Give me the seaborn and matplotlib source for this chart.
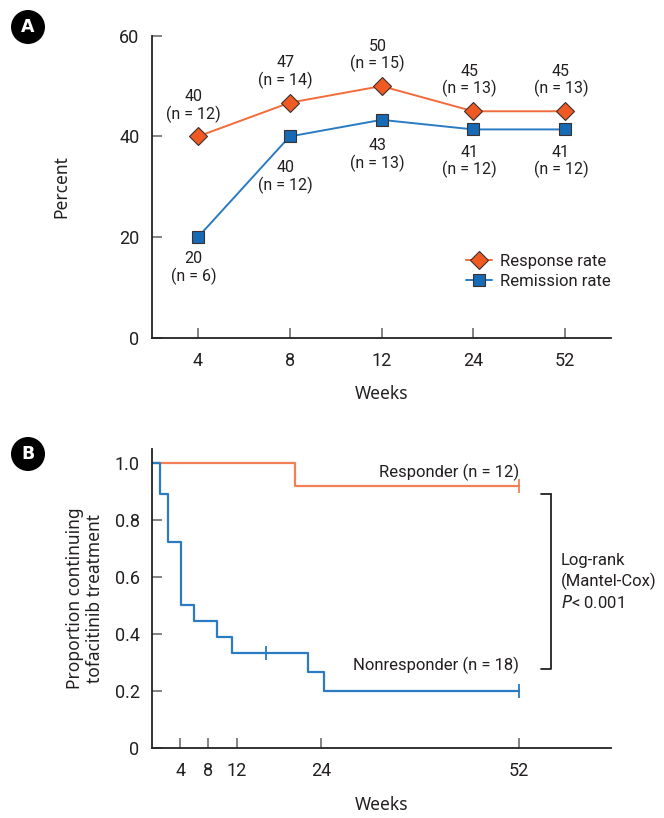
import matplotlib
matplotlib.use("Agg")
import matplotlib.pyplot as plt
import seaborn as sns
import pandas as pd
import numpy as np

# ---------------- data ----------------
weeks_a = ["4", "8", "12", "24", "52"]
response_rate = [40, 46.7, 50, 45, 45]
response_pct_lbl = ["40", "47", "50", "45", "45"]
response_n = [12, 14, 15, 13, 13]
remission_rate = [20, 40, 43.3, 41.4, 41.4]
remission_pct_lbl = ["20", "40", "43", "41", "41"]
remission_n = [6, 12, 13, 12, 12]

resp_km_t = [0, 20.2, 52]
resp_km_s = [1.0, 0.917, 0.917]
resp_cens_t = [52]
resp_cens_s = [0.917]

non_km_t = [0, 1.1, 2.2, 4.1, 5.9, 9.2, 11.3, 22.1, 24.4, 52]
non_km_s = [1.0, 0.889, 0.722, 0.5, 0.444, 0.389, 0.333, 0.267, 0.2, 0.2]
non_cens_t = [16.2, 52]
non_cens_s = [0.333, 0.2]

b_ticks = [4, 8, 12, 24, 52]

# ---------------- style ----------------
sns.set_theme(style="ticks")
NARROW = ["Roboto", "DejaVu Sans"]
REG = ["Noto Sans", "DejaVu Sans"]
plt.rcParams["font.family"] = NARROW

ORANGE_FILL = "#F05A22"
ORANGE_LINE = "#F26B3A"
ORANGE_KM = "#F27F55"
BLUE_FILL = "#176AB4"
BLUE_LINE = "#2A7BC2"
EDGE = "#3A3030"
TXT = "#231F20"
TICKC = "#6E6E6E"

W, H = 664, 818
fig = plt.figure(figsize=(W / 100, H / 100), dpi=100)

def fax(l, t, r, b):
    return fig.add_axes([l / W, 1 - b / H, (r - l) / W, (b - t) / H])

axA = fax(152, 35.7, 611, 338)
axB = fax(152, 449.3, 611, 748)

for ax in (axA, axB):
    sns.despine(ax=ax)
    for s in ("left", "bottom"):
        ax.spines[s].set_color("#222222")
        ax.spines[s].set_linewidth(1.3)
    ax.tick_params(direction="in", length=7, width=1.2, color=TICKC,
                   labelsize=13, labelcolor=TXT)
    ax.tick_params(axis="x", pad=10)
    ax.tick_params(axis="y", pad=9)

# ---------------- panel A ----------------
dfa = pd.DataFrame({"week": weeks_a, "Response rate": response_rate,
                    "Remission rate": remission_rate})
sns.lineplot(data=dfa, x="week", y="Response rate", ax=axA, color=ORANGE_LINE,
             lw=1.4, marker="D", markersize=9, markerfacecolor=ORANGE_FILL,
             markeredgecolor=EDGE, markeredgewidth=0.8, label="Response rate")
sns.lineplot(data=dfa, x="week", y="Remission rate", ax=axA, color=BLUE_LINE,
             lw=1.4, marker="s", markersize=8.5, markerfacecolor=BLUE_FILL,
             markeredgecolor=EDGE, markeredgewidth=0.8, label="Remission rate")
axA.set_xlim(-0.5, 4.5)
axA.set_ylim(0, 60)
axA.set_yticks([0, 20, 40, 60])
axA.set_xlabel("Weeks", fontsize=12.5, color=TXT, family=REG)
axA.set_ylabel("Percent", fontsize=12.5, color=TXT, family=REG)
axA.xaxis.set_label_coords(0.5, -0.155)
axA.yaxis.set_label_coords(-0.178, 0.5)

blue_off = {"4": 10, "8": 17, "12": 13, "24": 11, "52": 11}
for i, w in enumerate(weeks_a):
    axA.annotate(f"{response_pct_lbl[i]}\n(n = {response_n[i]})",
                 (w, response_rate[i]), xytext=(-3, 10), textcoords="offset points",
                 ha="center", va="bottom", fontsize=11.5, color=TXT, linespacing=1.1)
    axA.annotate(f"{remission_pct_lbl[i]}\n(n = {remission_n[i]})",
                 (w, remission_rate[i]), xytext=(-3, -blue_off[w]), textcoords="offset points",
                 ha="center", va="top", fontsize=11.5, color=TXT, linespacing=1.1)

leg = axA.legend(loc="upper left", bbox_to_anchor=(0.665, 0.307), frameon=False,
                 fontsize=12, handlelength=1.6, handletextpad=0.45,
                 labelspacing=0.3, borderpad=0)
for t in leg.get_texts():
    t.set_color(TXT)

# ---------------- panel B ----------------
dfr = pd.DataFrame({"t": resp_km_t, "s": resp_km_s})
dfn = pd.DataFrame({"t": non_km_t, "s": non_km_s})
sns.lineplot(data=dfr, x="t", y="s", ax=axB, color=ORANGE_KM, lw=1.6,
             drawstyle="steps-post", estimator=None)
sns.lineplot(data=dfn, x="t", y="s", ax=axB, color=BLUE_LINE, lw=1.6,
             drawstyle="steps-post", estimator=None)
sns.scatterplot(x=resp_cens_t, y=resp_cens_s, ax=axB, marker="|", s=90,
                color=ORANGE_KM, linewidth=1.3)
sns.scatterplot(x=non_cens_t, y=non_cens_s, ax=axB, marker="|", s=90,
                color=BLUE_LINE, linewidth=1.3)
axB.set_xlim(0, 65)
axB.set_ylim(0, 1.047)
axB.set_xticks(b_ticks)
axB.set_yticks([0, 0.2, 0.4, 0.6, 0.8, 1.0])
axB.set_yticklabels(["0", "0.2", "0.4", "0.6", "0.8", "1.0"])
axB.set_xlabel("Weeks", fontsize=12.5, color=TXT, family=REG)
axB.set_ylabel("Proportion continuing\ntofacitinib treatment", fontsize=12.5,
               color=TXT, family=REG, linespacing=1.1)
axB.xaxis.set_label_coords(0.5, -0.16)
axB.yaxis.set_label_coords(-0.105, 0.5)

axB.text(52, 0.965, "Responder (n = 12)", ha="right", va="center",
         fontsize=12, color=TXT)
axB.text(52, 0.29, "Nonresponder (n = 18)", ha="right", va="center",
         fontsize=12, color=TXT)

# bracket (figure coords in px)
bx, by0, by1 = 550.7, 494, 669
fig.add_artist(plt.Line2D([bx / W, bx / W, (bx - 10) / W], [1 - by0 / H, 1 - by1 / H, 1 - by1 / H],
                          color="#222222", lw=1.3))
fig.add_artist(plt.Line2D([(bx - 10) / W, bx / W], [1 - by0 / H, 1 - by0 / H],
                          color="#222222", lw=1.3))
fig.text(561 / W, 1 - 560 / H, "Log-rank", fontsize=12, color=TXT, va="center")
fig.text(561 / W, 1 - 581 / H, "(Mantel-Cox)", fontsize=12, color=TXT, va="center")
fig.text(561 / W, 1 - 602 / H, "$\\it{P}$< 0.001", fontsize=12, color=TXT, va="center")

# panel badges
for lbl, y in (("A", 27), ("B", 454)):
    fig.text(28 / W, 1 - y / H, lbl, ha="center", va="center", fontsize=12.5,
             fontweight="bold", color="white", family=["DejaVu Sans"],
             bbox=dict(boxstyle="circle,pad=0.42", fc="black", ec="black"))

fig.savefig("out.png", dpi=100)
